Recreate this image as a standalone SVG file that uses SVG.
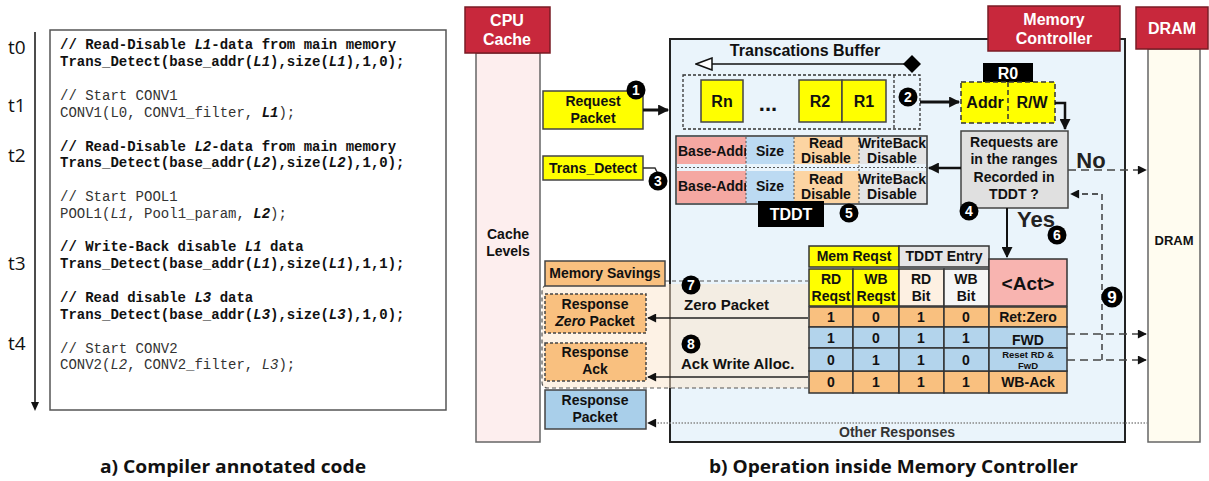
<svg xmlns="http://www.w3.org/2000/svg" width="1209" height="481" viewBox="0 0 1209 481">
<style>
.code{font-family:"Liberation Mono","Courier New",monospace;font-size:14px;fill:#333}
.cb{font-weight:bold;fill:#111}
.tl{font-family:"Open Sans","Liberation Sans",sans-serif;font-size:19px;fill:#111}
.cap{font-family:"Open Sans","Liberation Sans",sans-serif;font-size:17px;font-weight:bold;fill:#111}
.b{font-family:"Liberation Sans",Arial,sans-serif;font-weight:bold;font-size:14px;fill:#111;text-anchor:middle}
.w{fill:#fff}
.hdr{fill:#c8283c;stroke:#7a1b25;stroke-width:1.5}
.lane{stroke:#666;stroke-width:1.5}
.box{stroke:#444;stroke-width:1.5}
.cell{stroke:#333;stroke-width:1.5}
.dot{stroke:#555;stroke-width:1;stroke-dasharray:2 2;fill:none}
.dash{stroke:#333;stroke-width:1.3;stroke-dasharray:3 2;fill:none}
.num circle{fill:#000}
.num text{font-family:"Liberation Sans",Arial,sans-serif;font-weight:bold;font-size:14px;fill:#fff;text-anchor:middle}
</style>
<defs>
<marker id="ah" viewBox="0 0 10 10" refX="9" refY="5" markerWidth="10" markerHeight="9" markerUnits="userSpaceOnUse" orient="auto"><path d="M0,0 L10,5 L0,10 Z" fill="#111"/></marker>
<marker id="ahB" viewBox="0 0 10 10" refX="9" refY="5" markerWidth="13" markerHeight="11" markerUnits="userSpaceOnUse" orient="auto"><path d="M0,0 L10,5 L0,10 Z" fill="#111"/></marker>
<marker id="ahO" viewBox="0 0 18 14" refX="17" refY="7" markerWidth="18" markerHeight="14" markerUnits="userSpaceOnUse" orient="auto"><path d="M1,1 L17,7 L1,13 Z" fill="#fff" stroke="#111" stroke-width="1.5"/></marker>
<clipPath id="clipBA1"><rect x="677" y="137" width="69" height="27"/></clipPath>
<clipPath id="clipBA2"><rect x="677" y="171" width="69" height="32"/></clipPath>
</defs>

<!-- Left panel: compiler annotated code -->
<g id="timeline">
<line x1="35" y1="32" x2="35" y2="402" stroke="#111" stroke-width="1.5"/>
<path d="M31,402 L39,402 L35,411 Z" fill="#111"/>
<text class="tl" x="8" y="54">t0</text>
<text class="tl" x="8" y="112">t1</text>
<text class="tl" x="8" y="162">t2</text>
<text class="tl" x="8" y="270">t3</text>
<text class="tl" x="8" y="350">t4</text>
</g>
<g id="code">
<rect x="50" y="30" width="396" height="380" fill="#fff" stroke="#555" stroke-width="1.5"/>
<text class="code cb" x="60" y="49">// Read-Disable <tspan font-style="italic">L1</tspan>-data from main memory</text>
<text class="code cb" x="60" y="66">Trans_Detect(base_addr(<tspan font-style="italic">L1</tspan>),size(<tspan font-style="italic">L1</tspan>),1,0);</text>
<text class="code" x="60" y="100">// Start CONV1</text>
<text class="code" x="60" y="117">CONV1(L0, CONV1_filter, <tspan font-weight="bold" font-style="italic" fill="#111">L1</tspan>);</text>
<text class="code cb" x="60" y="151">// Read-Disable <tspan font-style="italic">L2</tspan>-data from main memory</text>
<text class="code cb" x="60" y="167">Trans_Detect(base_addr(<tspan font-style="italic">L2</tspan>),size(<tspan font-style="italic">L2</tspan>),1,0);</text>
<text class="code" x="60" y="201">// Start POOL1</text>
<text class="code" x="60" y="218">POOL1(<tspan font-style="italic">L1</tspan>, Pool1_param, <tspan font-weight="bold" font-style="italic" fill="#111">L2</tspan>);</text>
<text class="code cb" x="60" y="251">// Write-Back disable <tspan font-style="italic">L1</tspan> data</text>
<text class="code cb" x="60" y="268">Trans_Detect(base_addr(<tspan font-style="italic">L1</tspan>),size(<tspan font-style="italic">L1</tspan>),1,1);</text>
<text class="code cb" x="60" y="302">// Read disable <tspan font-style="italic">L3</tspan> data</text>
<text class="code cb" x="60" y="319">Trans_Detect(base_addr(<tspan font-style="italic">L3</tspan>),size(<tspan font-style="italic">L3</tspan>),1,0);</text>
<text class="code" x="60" y="353">// Start CONV2</text>
<text class="code" x="60" y="369">CONV2(<tspan font-style="italic">L2</tspan>, CONV2_filter, <tspan font-style="italic">L3</tspan>);</text>
</g>
<text class="cap" x="100" y="473" textLength="266" lengthAdjust="spacingAndGlyphs">a) Compiler annotated code</text>
<text class="cap" x="709" y="473" textLength="369" lengthAdjust="spacingAndGlyphs">b) Operation inside Memory Controller</text>

<!-- Lanes -->
<g id="cpu-cache">
<rect class="lane" x="476" y="53" width="64" height="389" fill="#fdeeee"/>
<rect class="hdr" x="465" y="7" width="85" height="46"/>
<text class="b w" x="507" y="26" style="font-size:16px">CPU</text>
<text class="b w" x="507" y="45" style="font-size:16px">Cache</text>
<text class="b" x="508" y="239">Cache</text>
<text class="b" x="508" y="256">Levels</text>
</g>
<g id="memory-controller">
<rect x="670" y="39" width="455" height="403" fill="#eaf4fb" stroke="#222" stroke-width="2"/>
<rect class="hdr" x="988" y="6" width="132" height="45"/>
<text class="b w" x="1054" y="25" style="font-size:16px">Memory</text>
<text class="b w" x="1054" y="44" style="font-size:16px">Controller</text>
</g>
<g id="dram">
<rect class="lane" x="1148" y="49" width="52" height="393" fill="#fffcf0"/>
<rect class="hdr" x="1136" y="7" width="72" height="42"/>
<text class="b w" x="1172" y="34" style="font-size:16px">DRAM</text>
<text class="b" x="1174" y="245" style="font-size:13px">DRAM</text>
</g>

<!-- Memory savings region -->
<g id="memory-savings-region">
<path d="M548,284 H808 V388 H548 Q542,388 542,382 V290 Q542,284 548,284 Z" fill="#fbe6cc" fill-opacity="0.5" stroke="none"/>
<path d="M665,281 H808 M808,388 H548 Q542,388 542,382 V292 Q542,286 547,285" fill="none" stroke="#555" stroke-width="1.2" stroke-dasharray="4 3"/>
</g>

<!-- CPU side boxes -->
<g id="request-packet">
<rect class="box" x="543" y="91" width="100" height="38" fill="#ffff00"/>
<text class="b" x="593" y="106">Request</text>
<text class="b" x="593" y="123">Packet</text>
</g>
<g id="trans-detect">
<rect class="box" x="543" y="156" width="100" height="24" fill="#ffff00"/>
<text class="b" x="593" y="173">Trans_Detect</text>
</g>
<g id="memory-savings">
<rect class="box" x="545" y="261" width="120" height="25" fill="#f9c07f"/>
<text class="b" x="605" y="278">Memory Savings</text>
</g>
<g id="response-zero">
<rect x="545" y="294" width="101" height="39" fill="#f9c07f" stroke="#444" stroke-width="1.5" stroke-dasharray="3 2"/>
<text class="b" x="595" y="309">Response</text>
<text class="b" x="595" y="326"><tspan font-style="italic">Zero</tspan> Packet</text>
</g>
<g id="response-ack">
<rect x="545" y="343" width="101" height="38" fill="#f9c07f" stroke="#444" stroke-width="1.5" stroke-dasharray="3 2"/>
<text class="b" x="595" y="357">Response</text>
<text class="b" x="595" y="374">Ack</text>
</g>
<g id="response-packet">
<rect class="box" x="545" y="390" width="101" height="39" fill="#a9cfea"/>
<text class="b" x="595" y="405">Response</text>
<text class="b" x="595" y="422">Packet</text>
</g>

<!-- Transactions buffer -->
<g id="transactions-buffer">
<text class="b" x="805" y="56" style="font-size:16px">Transcations Buffer</text>
<line x1="905" y1="64" x2="696" y2="64" stroke="#111" stroke-width="1.5" marker-end="url(#ahO)"/>
<path d="M903,64 L912,55 L921,64 L912,73 Z" fill="#000"/>
<rect class="dash" x="683" y="75" width="237" height="54"/>
<line class="dash" x1="894" y1="75" x2="894" y2="129"/>
<rect class="box" x="701" y="80" width="42" height="42" fill="#ffff00"/>
<text class="b" x="722" y="107" style="font-size:16px">Rn</text>
<text class="b" x="768" y="111" style="font-size:22px">...</text>
<rect class="box" x="799" y="80" width="43" height="42" fill="#ffff00"/>
<rect class="box" x="842" y="80" width="44" height="42" fill="#ffff00"/>
<text class="b" x="820" y="107" style="font-size:16px">R2</text>
<text class="b" x="864" y="107" style="font-size:16px">R1</text>
</g>

<!-- R0 register -->
<g id="r0">
<rect x="983" y="63" width="50" height="20" fill="#000"/>
<text class="b w" x="1008" y="79" style="font-size:16px">R0</text>
<rect x="961" y="82" width="94" height="41" fill="#ffff00" stroke="#333" stroke-width="1.5" stroke-dasharray="5 3"/>
<line x1="1008" y1="82" x2="1008" y2="123" stroke="#333" stroke-width="1.5" stroke-dasharray="5 3"/>
<text class="b" x="985" y="108" style="font-size:16px">Addr</text>
<text class="b" x="1032" y="108" style="font-size:16px">R/W</text>
</g>

<!-- Decision box -->
<g id="range-check">
<rect class="box" x="961" y="131" width="107" height="77" fill="#e0e0e0"/>
<text class="b" x="1014" y="147">Requests are</text>
<text class="b" x="1014" y="164">in the ranges</text>
<text class="b" x="1014" y="182">Recorded in</text>
<text class="b" x="1014" y="199">TDDT ?</text>
<text class="b" x="1091" y="168" style="font-size:22px;fill:#222">No</text>
<text class="b" x="1036" y="227" style="font-size:22px;fill:#222">Yes</text>
</g>

<!-- TDDT -->
<g id="tddt">
<rect x="676" y="136" width="251" height="68" fill="#eaf4fb" stroke="#333" stroke-width="1.5"/>
<rect x="677" y="137" width="69" height="27" fill="#f5a8a2"/>
<rect x="746" y="137" width="48" height="27" fill="#bcdaf2"/>
<rect x="794" y="137" width="65" height="27" fill="#fcd4a2"/>
<rect x="859" y="137" width="67" height="27" fill="#e4e4e4"/>
<rect x="677" y="171" width="69" height="32" fill="#f5a8a2"/>
<rect x="746" y="171" width="48" height="32" fill="#bcdaf2"/>
<rect x="794" y="171" width="65" height="32" fill="#fcd4a2"/>
<rect x="859" y="171" width="67" height="32" fill="#e4e4e4"/>
<line class="dot" x1="677" y1="167.5" x2="926" y2="167.5"/>
<line class="dot" x1="746" y1="137" x2="746" y2="203"/>
<line class="dot" x1="794" y1="137" x2="794" y2="203"/>
<line class="dot" x1="859" y1="137" x2="859" y2="203"/>
<text class="b" x="678" y="156" style="text-anchor:start" clip-path="url(#clipBA1)">Base-Addr</text>
<text class="b" x="770" y="156">Size</text>
<text class="b" x="826" y="148">Read</text>
<text class="b" x="826" y="163">Disable</text>
<text class="b" x="892" y="148">WriteBack</text>
<text class="b" x="892" y="163">Disable</text>
<text class="b" x="678" y="191" style="text-anchor:start" clip-path="url(#clipBA2)">Base-Addr</text>
<text class="b" x="770" y="191">Size</text>
<text class="b" x="826" y="184">Read</text>
<text class="b" x="826" y="199">Disable</text>
<text class="b" x="892" y="184">WriteBack</text>
<text class="b" x="892" y="199">Disable</text>
<rect x="758" y="201" width="66" height="26" fill="#000"/>
<text class="b w" x="791" y="220" style="font-size:16px">TDDT</text>
</g>

<!-- Action table -->
<g id="action-table">
<rect class="cell" x="809" y="246" width="90" height="21" fill="#ffff00"/>
<rect class="cell" x="899" y="246" width="90" height="21" fill="#e6e6e6"/>
<text class="b" x="854" y="261">Mem Reqst</text>
<text class="b" x="944" y="261">TDDT Entry</text>
<rect class="cell" x="809" y="269" width="44" height="37" fill="#ffff00"/>
<rect class="cell" x="853" y="269" width="46" height="37" fill="#ffff00"/>
<rect class="cell" x="899" y="269" width="45" height="37" fill="#fdf0e2"/>
<rect class="cell" x="944" y="269" width="45" height="37" fill="#f6f6f6"/>
<text class="b" x="831" y="284">RD</text><text class="b" x="831" y="301">Reqst</text>
<text class="b" x="876" y="284">WB</text><text class="b" x="876" y="301">Reqst</text>
<text class="b" x="921" y="284">RD</text><text class="b" x="921" y="301">Bit</text>
<text class="b" x="966" y="284">WB</text><text class="b" x="966" y="301">Bit</text>
<rect class="cell" x="989" y="259" width="78" height="47" fill="#f8b4b0"/>
<text class="b" x="1028" y="290" style="font-size:19px">&lt;Act&gt;</text>
<g fill="#f9c07f">
<rect class="cell" x="809" y="307" width="44" height="20"/><rect class="cell" x="853" y="307" width="46" height="20"/><rect class="cell" x="899" y="307" width="45" height="20"/><rect class="cell" x="944" y="307" width="45" height="20"/><rect class="cell" x="989" y="307" width="78" height="20"/>
<rect class="cell" x="809" y="371" width="44" height="22"/><rect class="cell" x="853" y="371" width="46" height="22"/><rect class="cell" x="899" y="371" width="45" height="22"/><rect class="cell" x="944" y="371" width="45" height="22"/><rect class="cell" x="989" y="371" width="78" height="22"/>
</g>
<g fill="#b3d4ec">
<rect class="cell" x="809" y="327" width="44" height="21"/><rect class="cell" x="853" y="327" width="46" height="21"/><rect class="cell" x="899" y="327" width="45" height="21"/><rect class="cell" x="944" y="327" width="45" height="21"/><rect class="cell" x="989" y="327" width="78" height="21"/>
<rect class="cell" x="809" y="348" width="44" height="23"/><rect class="cell" x="853" y="348" width="46" height="23"/><rect class="cell" x="899" y="348" width="45" height="23"/><rect class="cell" x="944" y="348" width="45" height="23"/><rect class="cell" x="989" y="348" width="78" height="23"/>
</g>
<text class="b" x="831" y="322">1</text><text class="b" x="876" y="322">0</text><text class="b" x="921" y="322">1</text><text class="b" x="966" y="322">0</text>
<text class="b" x="1028" y="322">Ret:Zero</text>
<text class="b" x="831" y="343">1</text><text class="b" x="876" y="343">0</text><text class="b" x="921" y="343">1</text><text class="b" x="966" y="343">1</text>
<text class="b" x="1028" y="345">FWD</text>
<text class="b" x="831" y="365">0</text><text class="b" x="876" y="365">1</text><text class="b" x="921" y="365">1</text><text class="b" x="966" y="365">0</text>
<text class="b" x="1028" y="358" style="font-size:9.5px">Reset RD &amp;</text>
<text class="b" x="1028" y="369" style="font-size:9.5px">FwD</text>
<text class="b" x="831" y="387">0</text><text class="b" x="876" y="387">1</text><text class="b" x="921" y="387">1</text><text class="b" x="966" y="387">1</text>
<text class="b" x="1028" y="387">WB-Ack</text>
</g>

<!-- Connectors -->
<g id="connectors" fill="none">
<line x1="643" y1="110" x2="668" y2="110" stroke="#111" stroke-width="3" marker-end="url(#ahB)"/>
<path d="M643,168 H655 L658,174" stroke="#333" stroke-width="1.5"/>
<line x1="920" y1="102" x2="959" y2="102" stroke="#111" stroke-width="3" marker-end="url(#ahB)"/>
<path d="M1055,103 H1065 V129" stroke="#111" stroke-width="2.5" marker-end="url(#ahB)"/>
<line x1="961" y1="168" x2="929" y2="168" stroke="#111" stroke-width="2.5" marker-end="url(#ahB)"/>
<line x1="1007" y1="208" x2="1007" y2="257" stroke="#111" stroke-width="2" marker-end="url(#ahB)"/>
<line x1="1068" y1="170" x2="1146" y2="170" stroke="#444" stroke-width="1.5" stroke-dasharray="8 5" marker-end="url(#ah)"/>
<line x1="1067" y1="334" x2="1146" y2="334" stroke="#444" stroke-width="1.5" stroke-dasharray="8 5" marker-end="url(#ah)"/>
<line x1="1067" y1="360" x2="1146" y2="360" stroke="#444" stroke-width="1.5" stroke-dasharray="8 5" marker-end="url(#ah)"/>
<path d="M1102,360 V194 H1071" stroke="#222" stroke-width="1.3" stroke-dasharray="6 4" marker-end="url(#ah)"/>
<line x1="808" y1="318" x2="648" y2="318" stroke="#222" stroke-width="1.5" marker-end="url(#ah)"/>
<line x1="808" y1="377" x2="648" y2="377" stroke="#222" stroke-width="1.5" marker-end="url(#ah)"/>
<line x1="1148" y1="423" x2="648" y2="423" stroke="#888" stroke-width="1.3" stroke-dasharray="1.5 1.5" marker-end="url(#ah)"/>
</g>
<g id="connector-labels">
<text class="b" x="684" y="310" style="font-size:15px;text-anchor:start">Zero Packet</text>
<text class="b" x="681" y="369" style="font-size:15px;text-anchor:start">Ack Write Alloc.</text>
<text class="b" x="897" y="437" style="fill:#333">Other Responses</text>
</g>

<!-- Step markers -->
<g id="steps" class="num">
<circle cx="636" cy="90" r="9.5"/><text x="636" y="95">1</text>
<circle cx="908" cy="97" r="9.5"/><text x="908" y="102">2</text>
<circle cx="658" cy="181" r="9.5"/><text x="658" y="186">3</text>
<circle cx="969" cy="211" r="9.5"/><text x="969" y="216">4</text>
<circle cx="849" cy="213" r="9.5"/><text x="849" y="218">5</text>
<circle cx="1057" cy="235" r="9.5"/><text x="1057" y="240">6</text>
<circle cx="691" cy="285" r="9.5"/><text x="691" y="290">7</text>
<circle cx="691" cy="344" r="9.5"/><text x="691" y="349">8</text>
<circle cx="1112" cy="297" r="10.5"/><text x="1112" y="303" style="font-size:17px">9</text>
</g>
</svg>
